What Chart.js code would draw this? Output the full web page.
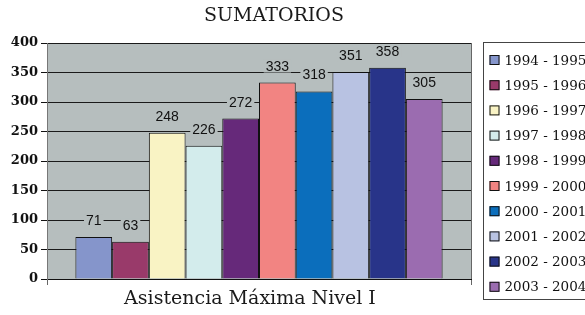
<!DOCTYPE html>
<html>
<head>
<meta charset="utf-8">
<script src="https://cdn.jsdelivr.net/npm/chart.js@4"></script>
<style>
  html, body { margin: 0; background: #fff; }
  #wrap { width: 585px; height: 315px; position: relative; }
</style>
</head>
<body>
<div id="wrap"><canvas id="chart"></canvas></div>
<script>
const chartTitle = 'SUMATORIOS';
const categoryName = 'Asistencia Máxima Nivel I';
const seasons = ['1994 - 1995', '1995 - 1996', '1996 - 1997', '1997 - 1998', '1998 - 1999',
                 '1999 - 2000', '2000 - 2001', '2001 - 2002', '2002 - 2003', '2003 - 2004'];
const totals = [71, 63, 248, 226, 272, 333, 318, 351, 358, 305];
const yMax = 400;
const yStep = 50;

const barColors = ['#8595cb', '#993a6a', '#f9f3c4', '#d3ecec', '#66297a',
                   '#f28482', '#0b6ebc', '#b8c2e2', '#283489', '#9b6cb0'];
const plotGrey = '#b6bebe';
const serif = '"DejaVu Serif", serif';

// grey plot background
const plotBg = {
  id: 'plotBg',
  beforeDraw(chart) {
    const { ctx, chartArea: a } = chart;
    ctx.save();
    ctx.fillStyle = plotGrey;
    ctx.fillRect(a.left, a.top, a.right - a.left, a.bottom - a.top);
    ctx.restore();
  }
};

// numbers above the bars, on a grey patch that hides the grid line
const valueLabels = {
  id: 'valueLabels',
  afterDatasetsDraw(chart) {
    const ctx = chart.ctx;
    ctx.save();
    ctx.font = '14px "Liberation Sans", Arial, sans-serif';
    ctx.textAlign = 'center';
    ctx.textBaseline = 'alphabetic';
    chart.data.datasets.forEach((ds, i) => {
      const bar = chart.getDatasetMeta(i).data[0];
      const txt = String(ds.data[0]);
      const w = ctx.measureText(txt).width;
      const y = bar.y - 12;
      ctx.fillStyle = plotGrey;
      ctx.fillRect(bar.x - w / 2 - 2, y - 11, w + 4, 13);
      ctx.fillStyle = '#111';
      ctx.fillText(txt, bar.x, y);
    });
    ctx.restore();
  }
};

// title, axis caption and boxed legend
const captions = {
  id: 'captions',
  afterDraw(chart) {
    const { ctx, chartArea: a } = chart;
    ctx.save();
    ctx.fillStyle = '#1a1a1a';
    ctx.textAlign = 'center';
    ctx.textBaseline = 'middle';
    ctx.font = '19px ' + serif;
    ctx.fillText(chartTitle, 274, 16);
    ctx.fillText(categoryName, 250, 299);

    const lx = a.right + 12.5;
    ctx.strokeStyle = '#444';
    ctx.lineWidth = 1;
    ctx.strokeRect(lx, 42.5, 120, 257);
    ctx.font = '13.5px ' + serif;
    ctx.textAlign = 'left';
    chart.data.datasets.forEach((ds, i) => {
      const y = 60 + i * 25.2;
      ctx.fillStyle = ds.backgroundColor;
      ctx.fillRect(lx + 6, y - 5, 10, 10);
      ctx.strokeStyle = '#111';
      ctx.strokeRect(lx + 6.5, y - 4.5, 9, 9);
      ctx.fillStyle = '#111';
      ctx.fillText(ds.label, lx + 21, y + 1);
    });
    ctx.restore();
  }
};

const datasets = seasons.map((s, i) => ({
  label: s,
  data: [totals[i]],
  backgroundColor: barColors[i],
  borderColor: '#111',
  borderWidth: 1,
  barPercentage: 1,
  categoryPercentage: 0.866
}));

new Chart(document.getElementById('chart'), {
  type: 'bar',
  data: { labels: [categoryName], datasets: datasets },
  options: {
    responsive: true,
    maintainAspectRatio: false,
    animation: false,
    devicePixelRatio: 1,
    layout: { padding: { top: 43, right: 114, bottom: 0, left: 0 } },
    plugins: {
      legend: { display: false },
      title: { display: false },
      tooltip: { enabled: false }
    },
    scales: {
      x: {
        ticks: { display: false },
        grid: { display: true, offset: true, color: '#666', tickLength: 6 },
        border: { color: '#111' },
        afterFit: s => { s.height = 36; }
      },
      y: {
        min: 0,
        max: yMax,
        ticks: {
          stepSize: yStep,
          color: '#111',
          padding: 3,
          font: { family: serif, size: 13, weight: 'bold' }
        },
        grid: { color: '#1a1a1a', tickColor: '#111', tickLength: 6 },
        border: { color: '#777' },
        afterFit: s => { s.width = 47; }
      }
    }
  },
  plugins: [plotBg, valueLabels, captions]
});
</script>
</body>
</html>
